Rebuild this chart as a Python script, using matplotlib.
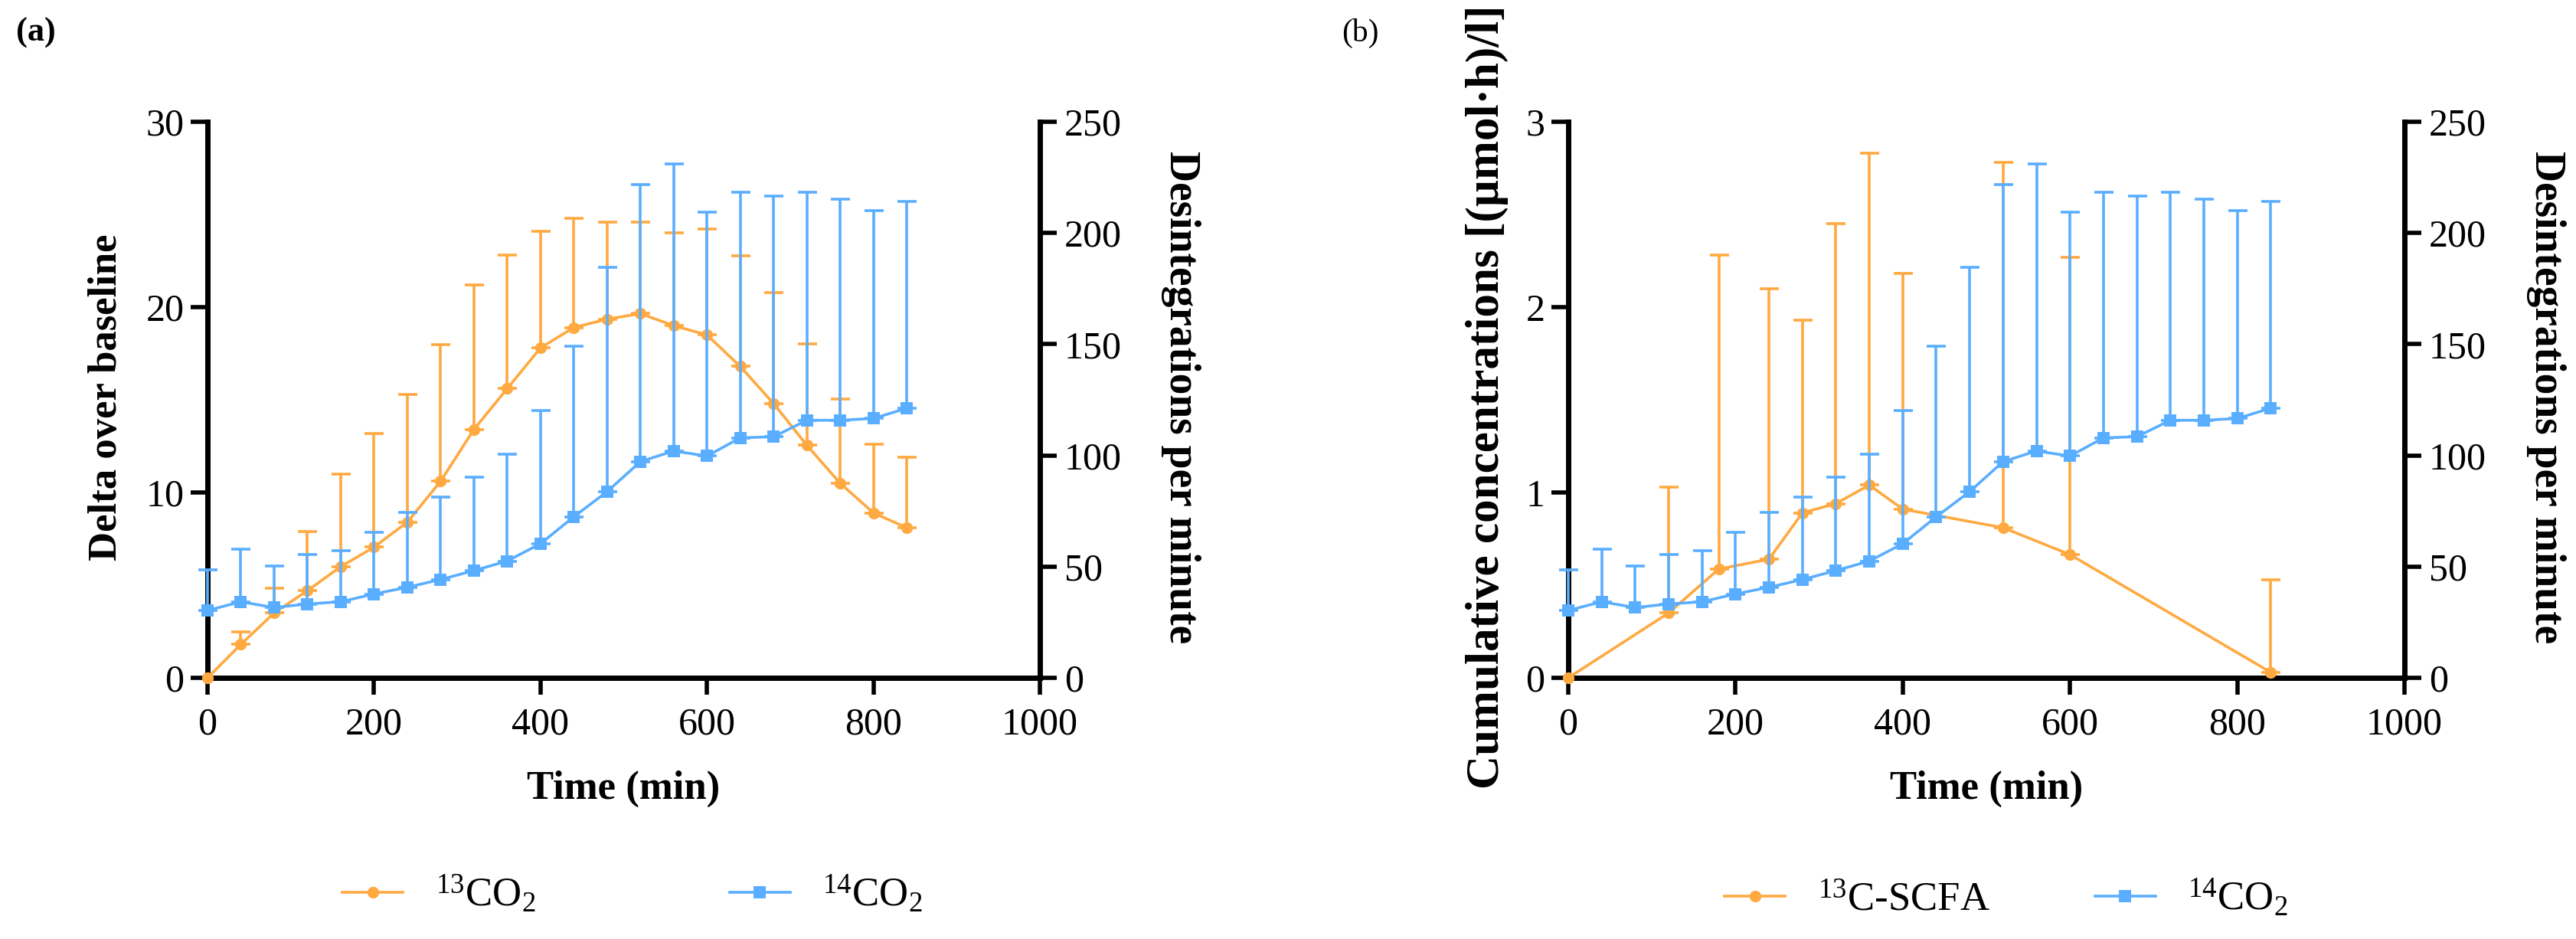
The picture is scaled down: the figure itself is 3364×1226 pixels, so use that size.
import matplotlib
matplotlib.use("Agg")
import matplotlib.pyplot as plt
import numpy as np
from matplotlib.lines import Line2D

plt.rcParams["font.family"] = ["Liberation Serif", "DejaVu Serif"]
plt.rcParams["mathtext.fontset"] = "custom"
plt.rcParams["mathtext.rm"] = "Liberation Serif"
plt.rcParams["mathtext.it"] = "Liberation Serif:italic"
plt.rcParams["mathtext.bf"] = "Liberation Serif:bold"

ORANGE = "#FFA940"
BLUE = "#5AAEFF"

# time points (min)
time_min = [0, 40, 80, 120, 160, 200, 240, 280, 320, 360, 400, 440,
            480, 520, 560, 600, 640, 680, 720, 760, 800, 840]

# panel (a): 13CO2 delta over baseline, mean and upper error end
co2_13_mean = [0.0, 1.8, 3.5, 4.7, 6.0, 7.05, 8.4, 10.6, 13.4, 15.6, 17.8, 18.9,
               19.35, 19.65, 19.0, 18.5, 16.8, 14.8, 12.55, 10.5, 8.9, 8.1]
co2_13_upper = [0.0, 2.5, 4.85, 7.9, 11.0, 13.2, 15.3, 17.96, 21.2, 22.8, 24.1, 24.8,
                24.6, 24.6, 24.0, 24.2, 22.75, 20.8, 18.0, 15.05, 12.6, 11.9]

# 14CO2 disintegrations per minute (same in both panels)
co2_14_mean = [30.3, 34.2, 31.6, 33.2, 34.2, 37.7, 40.7, 44.2, 48.2, 52.5, 60.3, 72.4,
               83.7, 97.2, 102.0, 99.7, 107.9, 108.4, 115.8, 115.8, 116.6, 121.2]
co2_14_upper = [48.7, 57.9, 50.4, 55.6, 57.1, 65.3, 74.3, 81.4, 90.2, 100.7, 120.2, 149.0,
                184.7, 221.7, 231.1, 209.3, 218.3, 216.7, 218.4, 215.3, 210.0, 214.3]

# panel (b): 13C-SCFA cumulative concentrations
scfa_time = [0, 120, 180, 240, 280, 320, 360, 400, 520, 600, 840]
scfa_mean = [0.0, 0.35, 0.587, 0.64, 0.89, 0.94, 1.04, 0.91, 0.81, 0.665, 0.03]
scfa_upper = [0.0, 1.03, 2.28, 2.10, 1.93, 2.45, 2.83, 2.18, 2.78, 2.27, 0.53]

TICK_FS = 36
LABEL_FS = 38
LW = 2.6
SPINE_LW = 5
MS_CIRCLE = 11
MS_SQUARE = 12


def draw_series(ax, x, mean, upper, color, marker, ms):
    x = np.asarray(x, float)
    mean = np.asarray(mean, float)
    upper = np.asarray(upper, float)
    err = upper - mean
    mask = err > 0
    ax.errorbar(x[mask], mean[mask], yerr=[np.zeros(mask.sum()), err[mask]],
                fmt="none", ecolor=color, elinewidth=LW, capsize=9, capthick=LW,
                clip_on=False, zorder=2)
    ax.plot(x, mean, color=color, lw=LW, marker=marker, ms=ms,
            markeredgewidth=0, clip_on=False, zorder=3)


def style_axes(ax, twin, ylim, yticks, rticks):
    ax.set_xlim(0, 1000)
    ax.set_xticks(range(0, 1001, 200))
    ax.set_ylim(*ylim)
    ax.set_yticks(yticks)
    twin.set_ylim(0, 250)
    twin.set_yticks(rticks)
    for a in (ax, twin):
        a.spines["top"].set_visible(False)
        for s in a.spines.values():
            s.set_linewidth(SPINE_LW)
    twin.spines["left"].set_visible(False)
    twin.spines["bottom"].set_visible(False)
    ax.spines["right"].set_visible(False)
    ax.tick_params(axis="both", direction="out", length=16, width=4,
                   labelsize=TICK_FS)
    ax.tick_params(axis="y", pad=6)
    ax.tick_params(axis="x", pad=11)
    twin.tick_params(axis="y", direction="out", length=16, width=4,
                     labelsize=TICK_FS, pad=7)


fig = plt.figure(figsize=(33.64, 12.26), dpi=100)

ax_a = fig.add_axes([0.08056, 0.27814, 0.32313, 0.59217])
tw_a = ax_a.twinx()
draw_series(ax_a, time_min, co2_13_mean, co2_13_upper, ORANGE, "o", MS_CIRCLE)
draw_series(tw_a, time_min, co2_14_mean, co2_14_upper, BLUE, "s", MS_SQUARE)
style_axes(ax_a, tw_a, (0, 30), [0, 10, 20, 30], range(0, 251, 50))

ax_b = fig.add_axes([0.60880, 0.27814, 0.32461, 0.59217])
tw_b = ax_b.twinx()
draw_series(ax_b, scfa_time, scfa_mean, scfa_upper, ORANGE, "o", MS_CIRCLE)
draw_series(tw_b, time_min, co2_14_mean, co2_14_upper, BLUE, "s", MS_SQUARE)
style_axes(ax_b, tw_b, (0, 3), [0, 1, 2, 3], range(0, 251, 50))

for ax, tw, ylab, lx, lfs in (
    (ax_a, tw_a, "Delta over baseline", -0.1214, LABEL_FS),
    (ax_b, tw_b, "Cumulative concentrations [(µmol·h)/l]", -0.097, 44),
):
    ax.set_xlabel("Time (min)", fontsize=LABEL_FS, fontweight="bold")
    ax.xaxis.set_label_coords(0.5, -0.20)
    ax.xaxis.label.set_va("center")
    ax.set_ylabel(ylab, fontsize=lfs, fontweight="bold")
    ax.yaxis.set_label_coords(lx, 0.505)
    ax.yaxis.label.set_va("center")
    tw.set_ylabel("Desintegrations per minute", fontsize=40,
                  fontweight="bold", rotation=270)
    tw.yaxis.set_label_coords(1.1694, 0.505)
    tw.yaxis.label.set_va("center")

fig.text(21 / 3364, 1 - 43 / 1226, "(a)", fontsize=32, fontweight="bold",
         ha="left", va="center")
fig.text(1752 / 3364, 1 - 43 / 1226, "(b)", fontsize=30,
         ha="left", va="center")

h_orange = Line2D([], [], color=ORANGE, lw=LW, marker="o", ms=MS_CIRCLE,
                  markeredgewidth=0)
h_blue = Line2D([], [], color=BLUE, lw=LW, marker="s", ms=MS_SQUARE,
                markeredgewidth=0)

fig.legend([h_orange, h_blue], ["$^{13}$CO$_2$", "$^{14}$CO$_2$"],
           loc="center", bbox_to_anchor=(826 / 3364, 1 - 1168 / 1226),
           ncol=2, frameon=False, fontsize=LABEL_FS, handlelength=1.5,
           handletextpad=0.8, columnspacing=4.8)
fig.legend([h_orange, h_blue], ["$^{13}$C-SCFA", "$^{14}$CO$_2$"],
           loc="center", bbox_to_anchor=(2620 / 3364, 1 - 1173 / 1226),
           ncol=2, frameon=False, fontsize=LABEL_FS, handlelength=1.5,
           handletextpad=0.8, columnspacing=2.6)

fig.savefig("out.png", dpi=100)
